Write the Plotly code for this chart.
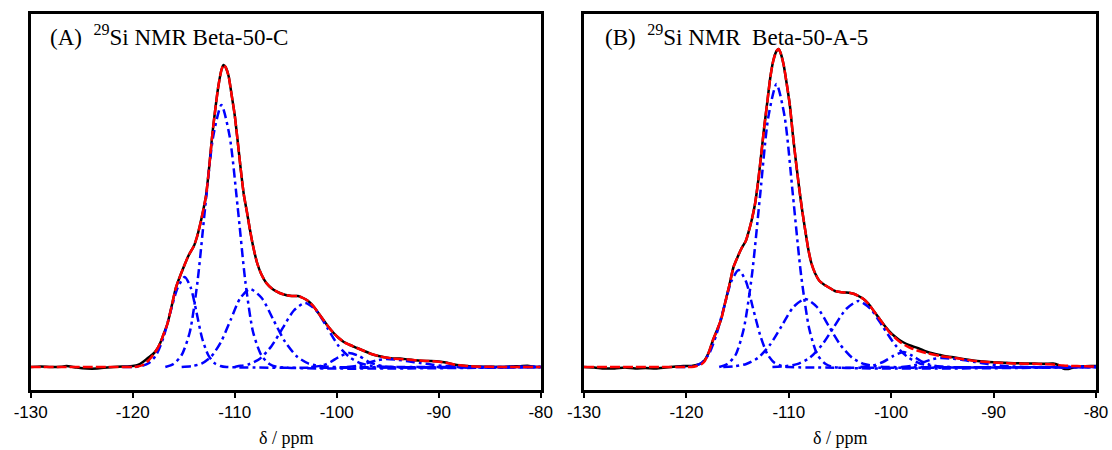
import plotly.graph_objects as go
from plotly.subplots import make_subplots

# ---------------- Panel A : Beta-50-C ----------------
PPM_A = [-130, -129, -128, -127, -126.5, -125.5, -124.5, -123.5, -122.5, -121.5,
         -120.5, -120, -119.5, -119, -118.5, -118, -117.6, -117.3, -117, -116.6,
         -116.2, -115.8, -115.5, -115, -114.5, -114, -113.7, -113.4, -113.1, -112.8,
         -112.5, -112.2, -111.9, -111.6, -111.3, -111.1, -110.9, -110.6, -110.3, -110,
         -109.7, -109.4, -109.1, -108.8, -108.5, -108.2, -107.8, -107.4, -106.9, -106.3,
         -105.6, -105, -104.4, -103.8, -103.3, -102.8, -102.3, -101.8, -101.3, -100.8,
         -100.3, -99.8, -99.3, -98.7, -98, -97.3, -96.6, -95.9, -95.2, -94.5,
         -93.8, -93, -92, -91, -90, -89.3, -88.5, -87.5, -86.5, -85,
         -84, -83, -82, -81.3, -80.5, -80]
EXP_A = [0, 0.5, 0, 0.3, 1, -0.5, -1.5, -1.5, -0.5, 0.3,
         0.5, 1, 2, 5, 9, 13, 18, 24, 32, 43,
         60, 78, 87, 100, 112, 121, 130, 142, 156, 172,
         200, 232, 258, 281, 297, 302, 300, 291, 272, 252,
         225, 197, 172, 155, 137, 121, 104, 93, 84, 78,
         74, 72, 71, 71, 69, 66, 61, 54, 47, 40,
         34, 29, 25, 22, 19, 16, 13, 11, 9.5, 8.5,
         8.5, 7.5, 6.5, 6, 5.5, 4.5, 2.5, 1.2, 0.5, 0.3,
         0, 0.5, 0.8, 1.2, 0, 0]
FIT_A = [0, 0, 0, 0, 0, 0, 0, 0, 0, 0,
         0, 0, 0.5, 2, 6, 12, 18, 24, 32, 43,
         60, 78, 87, 100, 112, 121, 130, 142, 156, 172,
         200, 232, 258, 281, 297, 302, 300, 291, 272, 252,
         225, 197, 172, 155, 137, 121, 104, 93, 84, 78,
         74, 72, 71, 71, 69, 66, 61, 54, 47, 40,
         34, 29, 25, 22, 19, 16, 13, 11, 9.5, 8.5,
         8, 7.5, 6.5, 6, 5.2, 4.2, 2.5, 1.2, 0.5, 0.2,
         0, 0, 0, 0, 0, 0]

A_C1_PPM = [-121, -119.8, -119.1, -118.4, -117.7, -117.0, -116.3, -115.6, -114.9, -114.3,
            -113.75, -113.2, -112.6, -112.0, -111.4, -110.8, -80]
A_C1_INT = [0, 0, 1, 4, 12, 29, 55, 79, 90, 79, 55, 29, 12, 4, 1, 0, 0]

A_C2_PPM = [-116.8, -116.0, -115.2, -114.4, -113.65, -112.9, -112.1, -111.3, -110.5, -109.7,
            -108.95, -108.2, -107.4, -106.6, -105.8, -80]
A_C2_INT = [0, 3, 12, 35, 85, 159, 231, 262, 231, 159, 85, 35, 12, 3, 0, 0]

A_C3_PPM = [-115.2, -114.2, -113.25, -112.3, -111.35, -110.4, -109.45, -108.5, -107.35, -106.2,
            -105.05, -103.9, -102.75, -101.6, -100.4, -80]
A_C3_INT = [0, 0.9, 3.4, 10.5, 25, 47, 69, 78, 69, 47, 25, 10.5, 3.4, 0.9, 0, 0]

A_C4_PPM = [-110.0, -109.7, -108.6, -107.5, -106.4, -105.3, -104.2, -103.1, -102.0, -100.9,
            -99.8, -98.7, -97.6, -96.5, -95.4, -94.3, -80]
A_C4_INT = [0, 0.7, 2.8, 8.6, 20.8, 38.8, 56.5, 64, 56.5, 38.8, 20.8, 9.5, 3.5, 1.2, 0.3, 0, 0]

A_C5_PPM = [-102.5, -101.4, -100.6, -99.8, -98.8, -97.8, -97.0, -96.2, -95.4, -94.5, -80]
A_C5_INT = [0, 1.5, 5, 10, 14, 11, 6, 2.5, 0.8, 0, 0]

A_C6_PPM = [-99.0, -97.8, -96.8, -95.9, -95.2, -94.2, -93.0, -91.8, -90.6, -89.4, -88.2, -87.0, -80]
A_C6_INT = [0, 1.5, 4.5, 7, 8, 7.4, 5.8, 3.9, 2.2, 1.0, 0.4, 0, 0]

# ---------------- Panel B : Beta-50-A-5 ----------------
PPM_B = [-130, -129, -128, -127, -126, -125, -124, -123, -122, -121,
         -120.3, -119.5, -119, -118.5, -118.2, -117.8, -117.4, -117, -116.6, -116.2,
         -115.8, -115.4, -115, -114.6, -114.2, -113.9, -113.6, -113.3, -113, -112.7,
         -112.4, -112.1, -111.8, -111.5, -111.2, -111, -110.8, -110.5, -110.2, -109.9,
         -109.6, -109.3, -109, -108.7, -108.4, -108.1, -107.8, -107.4, -107, -106.5,
         -106, -105.5, -105, -104.5, -104, -103.6, -103.2, -102.7, -102.2, -101.7,
         -101.2, -100.7, -100.2, -99.7, -99.2, -98.6, -98, -97.3, -96.6, -95.9,
         -95.2, -94.5, -93.8, -93, -92, -91, -90, -89, -88, -87,
         -86, -85, -84.2, -83.7, -83.2, -82.7, -82.2, -81.5, -80.5, -80]
EXP_B = [0, -0.5, -1.5, -1.5, -0.5, -1.5, -1, -1.5, -0.5, 0.5,
         1, 1, 2, 4, 7, 15, 27, 37, 48, 65,
         82, 100, 110, 119, 126, 136, 148, 163, 185, 212,
         240, 265, 290, 307, 316, 318, 314, 302, 283, 262,
         232, 205, 180, 157, 137, 118, 104, 93, 86, 82,
         79, 76, 75, 74.5, 74, 73, 71, 68, 63, 56,
         49, 42, 36, 31, 27, 23.5, 21, 18.5, 15.5, 13.5,
         12, 10.5, 9.5, 8, 6.5, 5.5, 4.7, 4.2, 3.8, 3.5,
         3.5, 3.2, 3.5, 2, -1.5, -2, -0.5, 0.5, 1, 1]
FIT_B = [0, 0, 0, 0, 0, 0, 0, 0, 0, 0,
         0, 0, 1, 3, 6, 15, 27, 37, 48, 65,
         82, 100, 110, 119, 126, 136, 148, 163, 185, 212,
         240, 265, 290, 307, 316, 318, 314, 302, 283, 262,
         232, 205, 180, 157, 137, 118, 104, 93, 86, 82,
         79, 76, 75, 74.5, 74, 73, 71, 68, 63, 56,
         49, 42, 35, 30, 25.5, 21.5, 18.5, 16, 14, 12.5,
         11, 10, 9, 7.8, 6.3, 5.3, 4.5, 4, 3.6, 3.3,
         3.2, 3, 2.5, 2, 1.5, 1.2, 1, 0.8, 0.5, 0.5]

B_C1_PPM = [-121, -120.0, -119.25, -118.5, -117.8, -117.1, -116.35, -115.6, -114.9, -114.2,
            -113.5, -112.8, -112.1, -111.4, -110.7, -110.0, -80]
B_C1_INT = [0, 0, 1.1, 4.3, 13, 31.5, 59, 86, 97, 86, 59, 32, 13, 4.2, 1.1, 0, 0]

B_C2_PPM = [-116.8, -116.0, -115.2, -114.4, -113.6, -112.8, -112.0, -111.2, -110.4, -109.6,
            -108.8, -108.0, -107.2, -106.4, -105.6, -80]
B_C2_INT = [0, 3, 12, 38, 92, 172, 250, 283, 250, 172, 92, 38, 12, 3, 0, 0]

B_C3_PPM = [-116.4, -115.3, -114.15, -113.0, -111.85, -110.7, -109.55, -108.4, -107.25, -106.1,
            -104.95, -103.8, -102.65, -101.5, -100.4, -80]
B_C3_INT = [0, 0.7, 3, 9.2, 22, 41, 60, 68, 60, 41, 22, 9.2, 3, 0.7, 0, 0]

B_C4_PPM = [-111.6, -110.4, -109.2, -108.0, -106.8, -105.6, -104.4, -103.2, -102.0, -100.8,
            -99.6, -98.4, -97.2, -96.0, -94.8, -80]
B_C4_INT = [0, 0.7, 2.9, 8.9, 21.5, 40, 58, 66, 58, 40, 22, 10, 3.5, 1, 0, 0]

B_C5_PPM = [-103.0, -101.8, -100.8, -99.8, -98.8, -97.9, -97.1, -96.3, -95.5, -94.6, -80]
B_C5_INT = [0, 1.5, 5, 11, 15, 11, 6, 2.5, 0.8, 0, 0]

B_C6_PPM = [-99.0, -97.8, -96.8, -95.9, -95.2, -94.2, -93.0, -91.8, -90.6, -89.4, -88.2, -87.0, -80]
B_C6_INT = [0, 1.5, 5, 8, 9, 8.5, 7, 5, 3, 1.5, 0.6, 0, 0]

TICKS = [-130, -120, -110, -100, -90, -80]
LABEL_A = "(A)\u00a0 <sup>29</sup>Si NMR Beta-50-C"
LABEL_B = "(B)\u00a0 <sup>29</sup>Si NMR\u00a0 Beta-50-A-5"
XTITLE = "δ / ppm"

SERIF = "Times New Roman, Liberation Serif, serif"
SANS = "Arial, Liberation Sans, sans-serif"

fig = make_subplots(rows=1, cols=2)

panels = [
    (1, PPM_A, EXP_A, FIT_A,
     [(A_C1_PPM, A_C1_INT), (A_C2_PPM, A_C2_INT), (A_C3_PPM, A_C3_INT),
      (A_C4_PPM, A_C4_INT), (A_C5_PPM, A_C5_INT), (A_C6_PPM, A_C6_INT)]),
    (2, PPM_B, EXP_B, FIT_B,
     [(B_C1_PPM, B_C1_INT), (B_C2_PPM, B_C2_INT), (B_C3_PPM, B_C3_INT),
      (B_C4_PPM, B_C4_INT), (B_C5_PPM, B_C5_INT), (B_C6_PPM, B_C6_INT)]),
]

for col, ppm, exp, fit, comps in panels:
    fig.add_trace(go.Scatter(x=ppm, y=exp, mode="lines",
                             line=dict(color="black", width=2.5, shape="spline", smoothing=0.6),
                             showlegend=False, hoverinfo="skip"), row=1, col=col)
    for cx, cy in comps:
        fig.add_trace(go.Scatter(x=cx, y=cy, mode="lines",
                                 line=dict(color="#0000FF", width=2.5, dash="9px,4px,3px,4px",
                                           shape="spline", smoothing=0.7),
                                 showlegend=False, hoverinfo="skip"), row=1, col=col)
    fig.add_trace(go.Scatter(x=ppm, y=fit, mode="lines",
                             line=dict(color="#FF0000", width=2.5, dash="10px,3px",
                                       shape="spline", smoothing=0.6),
                             showlegend=False, hoverinfo="skip"), row=1, col=col)

W, H = 1112, 450
dom_a = [30.7 / W, 540.7 / W]
dom_b = [584 / W, 1096 / W]
dom_y = [(H - 390) / H, (H - 14) / H]

xcommon = dict(range=[-130, -80], tickvals=TICKS, ticktext=[str(t) for t in TICKS],
               ticks="outside", ticklen=5, tickwidth=2, tickcolor="black",
               showline=True, linewidth=2.5, linecolor="black", mirror=True,
               showgrid=False, zeroline=False, automargin=False,
               tickfont=dict(family=SANS, size=17, color="black"))
ycommon = dict(range=[-23, 353], showticklabels=False, ticks="",
               showline=True, linewidth=2.5, linecolor="black", mirror=True,
               showgrid=False, zeroline=False, domain=dom_y, automargin=False)

fig.update_layout(
    width=W, height=H, margin=dict(l=0, r=0, t=0, b=0, autoexpand=False),
    paper_bgcolor="white", plot_bgcolor="white",
    xaxis=dict(domain=dom_a, **xcommon),
    xaxis2=dict(domain=dom_b, **xcommon),
    yaxis=ycommon, yaxis2=ycommon,
    annotations=[
        dict(text=LABEL_A, xref="paper", yref="paper", x=48 / W, y=1 - 36 / H,
             xanchor="left", yanchor="middle", showarrow=False,
             font=dict(family=SERIF, size=23, color="black")),
        dict(text=LABEL_B, xref="paper", yref="paper", x=603 / W, y=1 - 36 / H,
             xanchor="left", yanchor="middle", showarrow=False,
             font=dict(family=SERIF, size=23, color="black")),
        dict(text=XTITLE, xref="paper", yref="paper", x=(dom_a[0] + dom_a[1]) / 2, y=1 - 438 / H,
             xanchor="center", yanchor="middle", showarrow=False,
             font=dict(family=SERIF, size=18, color="black")),
        dict(text=XTITLE, xref="paper", yref="paper", x=(dom_b[0] + dom_b[1]) / 2, y=1 - 438 / H,
             xanchor="center", yanchor="middle", showarrow=False,
             font=dict(family=SERIF, size=18, color="black")),
    ],
)

fig.write_html("out.html")
